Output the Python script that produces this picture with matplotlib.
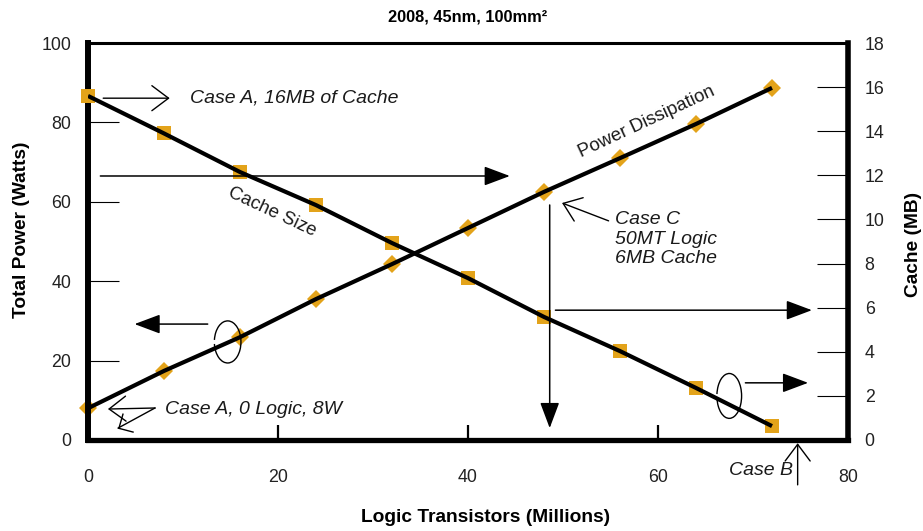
import matplotlib
matplotlib.use("Agg")
import matplotlib.pyplot as plt
from matplotlib.patches import Arc

plt.rcParams['font.family'] = ['Liberation Sans', 'DejaVu Sans']

# Logic transistor count (millions) for each design point
logic_mt = [0, 8, 16, 24, 32, 40, 48, 56, 64, 72]
# Total power dissipation (W), left axis
power_w = [8, 17.4, 25.9, 35.5, 44.3, 53.4, 62.5, 71.0, 79.6, 88.7]
# Cache size (MB), right axis
cache_mb = [15.6, 13.9, 12.15, 10.65, 8.93, 7.34, 5.58, 4.03, 2.36, 0.63]

x_ticks = [0, 20, 40, 60, 80]
left_ticks = [0, 20, 40, 60, 80, 100]
right_ticks = [0, 2, 4, 6, 8, 10, 12, 14, 16, 18]

gold = '#E3A31A'

fig = plt.figure(figsize=(9.23, 5.31), dpi=100)
ax = fig.add_axes([88 / 923, 91 / 531, 760 / 923, 397 / 531])
ax2 = ax.twinx()

ax.set_xlim(0, 80)
ax.set_ylim(0, 100)
ax2.set_ylim(0, 18)

# Power dissipation: diamonds under a heavy black line
ax.plot(logic_mt, power_w, linestyle='none', marker='D', markersize=9.5,
        color=gold, markeredgewidth=0, zorder=2, clip_on=False)
ax.plot(logic_mt, power_w, color='black', linewidth=3.0, zorder=3,
        solid_capstyle='butt')

# Cache size: squares under a heavy black line
ax2.plot(logic_mt, cache_mb, linestyle='none', marker='s', markersize=9.5,
         color=gold, markeredgewidth=0, zorder=2, clip_on=False)
ax2.plot(logic_mt, cache_mb, color='black', linewidth=3.0, zorder=3,
         solid_capstyle='butt')

# Spines
for s in ['left', 'bottom', 'top', 'right']:
    ax.spines[s].set_color('black')
    ax2.spines[s].set_visible(False)
ax.spines['left'].set_linewidth(4.3)
ax.spines['bottom'].set_linewidth(3.8)
ax.spines['top'].set_linewidth(2.2)
ax.spines['right'].set_visible(False)
ax2.spines['right'].set_visible(True)
ax2.spines['right'].set_linewidth(4.0)
ax2.spines['right'].set_color('black')

# Ticks
ax.set_xticks(x_ticks)
ax.set_yticks(left_ticks)
ax2.set_yticks(right_ticks)
ax.tick_params(axis='x', direction='in', length=11, width=1.6, pad=21,
               labelsize=12.8, colors='black', labelcolor='#222222')
ax.tick_params(axis='y', direction='in', length=22, width=0.8, pad=12,
               labelsize=12.8, colors='black', labelcolor='#222222')
ax2.tick_params(axis='y', direction='in', length=22, width=0.8, pad=12,
                labelsize=12.8, colors='black', labelcolor='#222222')

# Axis titles and chart title
fig.text(22 / 923, 1 - 230 / 531, 'Total Power (Watts)', rotation=90,
         ha='center', va='center', fontsize=13.8, fontweight='bold')
fig.text(914 / 923, 1 - 244 / 531, 'Cache (MB)', rotation=90,
         ha='center', va='center', fontsize=13.8, fontweight='bold')
fig.text(486 / 923, 1 - 518 / 531, 'Logic Transistors (Millions)',
         ha='center', va='center', fontsize=13.8, fontweight='bold')
fig.text(468 / 923, 1 - 17 / 531, '2008, 45nm, 100mm²', ha='center',
         va='center', fontsize=11.8, fontweight='bold')

T = ax.transData
open_head = dict(arrowstyle='->,head_length=0.6,head_width=0.45',
                 color='black', linewidth=1.0, mutation_scale=20,
                 shrinkA=0, shrinkB=0)
solid_head = dict(arrowstyle='-|>,head_length=0.8,head_width=0.3',
                  color='black', linewidth=1.1, mutation_scale=20,
                  shrinkA=0, shrinkB=0)
ital = dict(fontsize=14, fontstyle='italic', color='#1a1a1a')

# Case A, 16MB of cache
ax2.annotate('', xy=(8.6, 86.1), xytext=(1.6, 86.1), xycoords=T,
             textcoords=T, arrowprops=open_head)
ax2.text(10.7, 86.1, 'Case A, 16MB of Cache', transform=T, ha='left',
         va='center', **ital)

# Long horizontal arrow across the cache line
ax2.annotate('', xy=(44.4, 66.5), xytext=(1.3, 66.5), xycoords=T,
             textcoords=T, arrowprops=solid_head)

# Curve captions
ax2.text(19.4, 57.4, 'Cache Size', transform=T, ha='center', va='center',
         rotation=-25, fontsize=13.4, color='#1a1a1a')
ax2.text(58.8, 80.2, 'Power Dissipation', transform=T, ha='center',
         va='center', rotation=25, fontsize=13.4, color='#1a1a1a')

# Case C
ax2.annotate('', xy=(49.9, 59.7), xytext=(54.8, 55.2), xycoords=T,
             textcoords=T, arrowprops=open_head)
ax2.text(55.5, 50.6, 'Case C\n50MT Logic\n6MB Cache', transform=T,
         ha='left', va='center', linespacing=1.2, **ital)
ax2.annotate('', xy=(48.6, 3.0), xytext=(48.6, 59.2), xycoords=T,
             textcoords=T, arrowprops=solid_head)
ax2.annotate('', xy=(76.2, 32.7), xytext=(49.2, 32.7), xycoords=T,
             textcoords=T, arrowprops=solid_head)

# Loop on the power line pointing to the left axis
ax2.add_patch(Arc((14.7, 24.7), 2.8, 10.6, theta1=-160, theta2=160,
                  transform=T, color='black', linewidth=1.0))
ax2.annotate('', xy=(4.9, 29.2), xytext=(12.6, 29.2), xycoords=T,
             textcoords=T, arrowprops=solid_head)

# Loop on the cache line pointing to the right axis
ax2.add_patch(Arc((67.5, 11.1), 2.6, 11.3, theta1=-160, theta2=160,
                  transform=T, color='black', linewidth=1.0))
ax2.annotate('', xy=(75.8, 14.4), xytext=(69.2, 14.4), xycoords=T,
             textcoords=T, arrowprops=solid_head)

# Case A, 0 logic
ax2.annotate('', xy=(2.1, 7.8), xytext=(7.05, 8.06), xycoords=T,
             textcoords=T, arrowprops=open_head)
ax2.plot([7.05, 3.16, 4.74], [8.06, 3.0, 2.0], transform=T, color='black',
         linewidth=1.0)
ax2.plot([3.68, 3.26], [6.5, 3.0], transform=T, color='black', linewidth=1.0)
ax2.text(8.1, 7.6, 'Case A, 0 Logic, 8W', transform=T, ha='left',
         va='center', **ital)

# Case B
ax2.annotate('', xy=(74.7, -0.8), xytext=(74.7, -11.3), xycoords=T,
             textcoords=T, arrowprops=open_head, annotation_clip=False)
ax2.text(74.2, -7.6, 'Case B', transform=T, ha='right', va='center',
         clip_on=False, **ital)

fig.savefig('out.png', dpi=100)
